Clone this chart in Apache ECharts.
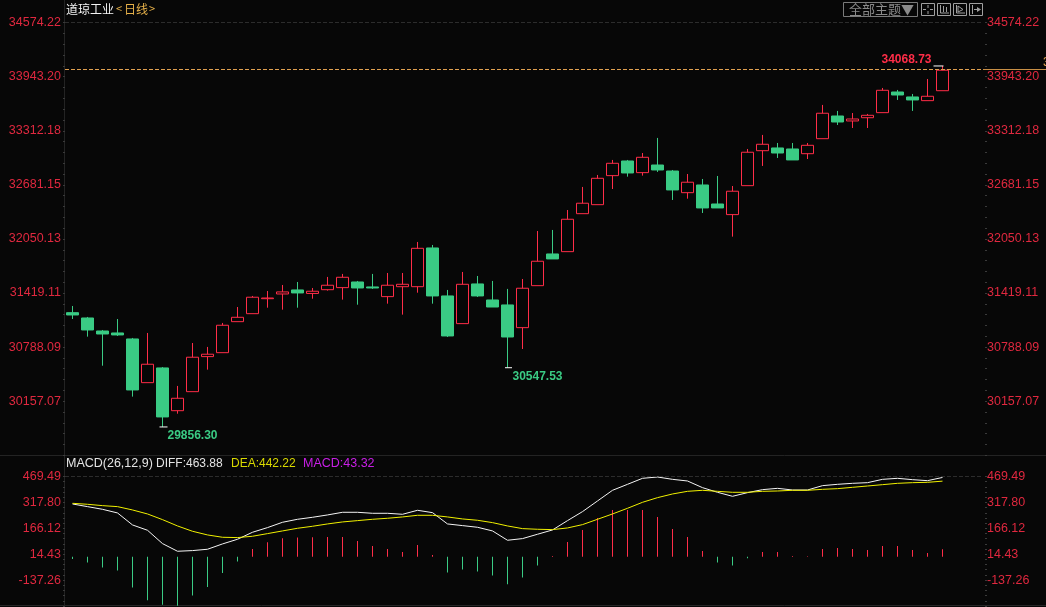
<!DOCTYPE html>
<html><head><meta charset="utf-8">
<style>html,body{margin:0;padding:0;background:#070707;overflow:hidden}#c{width:1046px;height:607px}</style>
<script src="https://cdn.jsdelivr.net/npm/echarts@6/dist/echarts.min.js"></script>
</head><body><div id="c"></div>
<script>
const opens=[31190,31128,30976,30953,30883,30373,30545,30046,30268,30677,30723,31085,31178,31353,31408,31455,31414,31458,31482,31548,31490,31377,31493,31493,31945,31385,31062,31525,31338,31280,31015,31505,31875,31902,32345,32450,32789,32960,32824,32913,32843,32590,32680,32458,32334,32672,33080,33112,33100,33045,33220,33485,33427,33465,33524,33765,33707,33664,33780];
const closes=[31163,30988,30941,30930,30288,30588,29973,30191,30670,30705,31043,31136,31370,31361,31432,31420,31440,31510,31603,31478,31478,31510,31521,31941,31385,30918,31521,31385,31256,30906,31475,31790,31817,32280,32467,32758,32933,32820,33003,32855,32622,32712,32412,32412,32607,33062,33155,33053,32972,33143,33517,33415,33450,33493,33785,33730,33672,33715,34019];
const lows=[31116,30910,30571,30918,30210,30373,29856.30,30011,30268,30525,30723,31085,31178,31248,31225,31248,31353,31447,31342,31283,31467,31295,31167,31423,31295,30906,31062,31373,31256,30547.53,30766,31505,31817,31902,32345,32450,32633,32777,32789,32832,32505,32520,32353,32412,32077,32672,32902,32995,32972,32983,33220,33380,33345,33345,33524,33672,33544,33664,33780];
const highs=[31268,31140,30988,31116,30895,30953,30556,30335,30836,30790,31070,31256,31385,31443,31513,31548,31478,31607,31642,31560,31642,31653,31653,32015,31980,31455,31665,31618,31560,31467,31583,32143,32155,32388,32657,32797,32972,32972,33053,33229,32855,32808,32750,32785,32668,33100,33264,33170,33170,33170,33614,33544,33520,33509,33812,33789,33742,33917,34068.73];
const diff=[308.6,293,277.4,256,185.8,154.6,76.5,31.7,35.6,43.4,74.6,101.9,142.9,170.2,201.4,218.9,230.6,244.3,259.9,259.9,254,254,248.2,271.6,257.9,191.6,181.9,172.1,150.7,96.1,105.8,131.2,156.5,211.1,263.8,326.2,388.6,423.7,458.8,466.5,452.9,443.2,404.2,376.9,353.5,374.9,392.5,400.2,390.5,390.5,415.9,423.7,429.5,433.4,452.9,458.8,451,445.1,463.88];
const dea=[312.5,306.7,298.9,293,273.5,250.1,216.9,179.9,148.7,127.3,113.6,111.7,119.5,135,150.7,166.3,178,191.6,203.3,211.1,218.9,224.8,232.6,242.3,242.3,232.6,220.9,213.1,199.4,179.9,164.3,160.4,158.5,168.2,187.7,218.9,250.1,283.3,318.4,345.6,367.1,382.7,388.6,382.7,376.9,376.9,382.7,384.6,388.6,388.6,394.4,398.3,406.1,413.9,421.7,429.5,433.4,435.4,442.22];
const macd=[-13.2,-34.6,-63.9,-81.4,-180.9,-254.9,-282.3,-288.1,-227.7,-177,-95,-28.8,45.4,84.4,107.8,111.7,113.6,115.6,115.6,92.2,62.9,45.4,27.8,68.8,10.3,-93.1,-75.6,-87.3,-110.7,-161.4,-122.4,-52.2,4,86.3,156.5,226.7,273.5,273.5,273.5,232.6,162.4,115.6,33.6,-34.6,-52.2,-9.3,27.8,27.8,4.4,2.5,45.4,51.2,45.4,39.5,62.9,62.9,39.5,22,43.32];
const mainTicks=['34574.22','33943.20','33312.18','32681.15','32050.13','31419.11','30788.09','30157.07'];
const macdTicks=['469.49','317.80','166.12','14.43','-137.26'];
const priceLine=34030;
const RED='#ff2d48',GREEN='#3acb84',BG='#070707',AX='#e0283f';
const FONT='"Liberation Sans",Arial,sans-serif';
const CJK='"Noto Sans CJK SC"';
const categories=opens.map((_,i)=>String(i)).concat(['','']);
const candles=opens.map((o,i)=>[o,closes[i],lows[i],highs[i]]);
const mainMin=29526.05,mainInt=631.0214,macdMin=-288.95,macdInt=151.688;

function yax(gridIndex,pos,min,interval,count,ticks,off,margin){
  return {type:'value',gridIndex,position:pos,offset:off,min,max:min+interval*count,interval,scale:false,
    axisLine:{show:false},splitLine:{show:false},
    axisTick:{show:true,length:2,lineStyle:{color:'#3a3a3a'}},
    minorTick:{show:true,splitNumber:5,length:2,lineStyle:{color:'#3a3a3a'}},
    axisLabel:{margin,color:AX,fontFamily:FONT,fontSize:12.5,showMinLabel:false,
      formatter:(v,i)=>ticks[count-i]===undefined?'':ticks[count-i]}};
}
function txt(x,y,text,fill,size,fam){
  return {type:'text',x,y,silent:true,style:{text,fill,font:(size||12)+'px '+(fam||FONT),verticalAlign:'middle'}};
}
function ln(x1,y1,x2,y2,c){return {type:'line',silent:true,shape:{x1,y1,x2,y2},style:{stroke:c||'#232323',lineWidth:1}};}
function box(x,y,w,h,c,f){return {type:'rect',silent:true,shape:{x,y,width:w,height:h},style:{stroke:c,fill:f||'none',lineWidth:1}};}
const C='#a0a0a0';
const graphics=[
  ln(64.5,0,64.5,605),ln(0,455.5,1046,455.5),ln(0,605.5,1046,605.5,'#262626'),
  txt(66,9,'道琼工业','#f4f4f4',12,CJK),
  txt(116,9,'<','#e8b24a',11,CJK),txt(124,9,'日线','#e8b24a',12,CJK),txt(149,9,'>','#e8b24a',11,CJK),
  txt(66,464,'MACD(26,12,9)','#e4e4e4',12.5),txt(156,464,'DIFF:463.88','#e4e4e4',12),
  txt(231,464,'DEA:442.22','#d9d900',12),txt(303,464,'MACD:43.32','#c81fe6',12.5),
  txt(1043,63,'3','#e0a050',12),
  box(843.5,2.5,74,14,'#7a7a7a'),
  txt(849,9.5,'全部主题▼','#8a8a8a',13,CJK),
  box(921.5,3.5,13,12,C),box(937.5,3.5,13,12,C),box(953.5,3.5,13,12,C),box(969.5,3.5,13,12,C),
  ln(928,5,928,8,C),ln(928,11,928,14,C),ln(923,9.5,926,9.5,C),ln(930,9.5,933,9.5,C),
  ln(940.5,5,940.5,13,C),ln(940.5,13,949,13,C),ln(943.5,6,943.5,12,C),ln(946.5,7,946.5,12,C),
  ln(956.5,5,956.5,13,C),ln(956.5,13,965,13,C),{type:'polygon',silent:true,shape:{points:[[958,6],[963,9.5],[958,12]]},style:{fill:'none',stroke:C}},
  ln(972.5,5,972.5,14,C),ln(974,9.5,980,9.5,C),{type:'polygon',silent:true,shape:{points:[[977,7],[981,9.5],[977,12]]},style:{fill:C}}
];
const mark=(i,v,c,off)=>({coord:[i,v],symbol:'rect',symbolSize:[off[1],1],symbolOffset:[off[0],0],itemStyle:{color:'#fff'},
  label:{show:true,formatter:v.toFixed(2),color:c,position:'inside',offset:[off[2],off[3]],fontSize:12,fontWeight:'bold',fontFamily:FONT}});

const chart=echarts.init(document.getElementById('c'),null,{renderer:'canvas'});
chart.setOption({
  animation:false,backgroundColor:BG,
  grid:[{left:65,width:915,top:22.65,height:432.6},{left:65,width:915,top:476.5,height:129.5}],
  xAxis:[0,1].map(g=>({type:'category',gridIndex:g,data:categories,boundaryGap:true,axisLine:{show:false},axisTick:{show:false},axisLabel:{show:false},splitLine:{show:false}})),
  yAxis:[yax(0,'left',mainMin,mainInt,8,mainTicks,0,4),yax(0,'right',mainMin,mainInt,8,mainTicks,5,2),
         yax(1,'left',macdMin,macdInt,5,macdTicks,0,4),yax(1,'right',macdMin,macdInt,5,macdTicks,5,2)],
  graphic:graphics,
  series:[
    {type:'candlestick',name:'K',xAxisIndex:0,yAxisIndex:0,data:candles,barWidth:12,clip:false,
      itemStyle:{color:BG,color0:GREEN,borderColor:RED,borderColor0:GREEN,borderWidth:1},
      markLine:{silent:true,symbol:'none',label:{show:false},animation:false,
        data:[
          [{yAxis:mainMin+8*mainInt,x:65,lineStyle:{color:'#2c2c2c',type:'dashed',width:1}},{yAxis:mainMin+8*mainInt,x:983}],
          [{yAxis:priceLine,x:65,lineStyle:{color:'#e0a050',type:'dashed',width:1}},{yAxis:priceLine,x:983}],
          [{yAxis:priceLine,x:983,lineStyle:{color:'#c88f45',type:'solid',width:1}},{yAxis:priceLine,x:1046}]
        ]},
      markPoint:{silent:true,animation:false,data:[
        mark(6,29856.30,GREEN,[1,8,29,9]),
        mark(29,30547.53,GREEN,[1,7,29,9]),
        mark(58,34068.73,RED,[-4,10,-32,-6])
      ]}
    },
    {type:'bar',name:'MACD',xAxisIndex:1,yAxisIndex:2,data:macd,barWidth:1,
      itemStyle:{color:p=>p.value>=0?RED:GREEN}},
    {type:'line',name:'DIFF',xAxisIndex:1,yAxisIndex:2,data:diff,symbol:'none',lineStyle:{color:'#f4f4f4',width:1},
      markLine:{silent:true,symbol:'none',label:{show:false},animation:false,data:[[{yAxis:macdMin+5*macdInt,x:65,lineStyle:{color:'#2c2c2c',type:'dashed',width:1}},{yAxis:macdMin+5*macdInt,x:983}]]}},
    {type:'line',name:'DEA',xAxisIndex:1,yAxisIndex:2,data:dea,symbol:'none',lineStyle:{color:'#f0f000',width:1}}
  ]
});
</script></body></html>
